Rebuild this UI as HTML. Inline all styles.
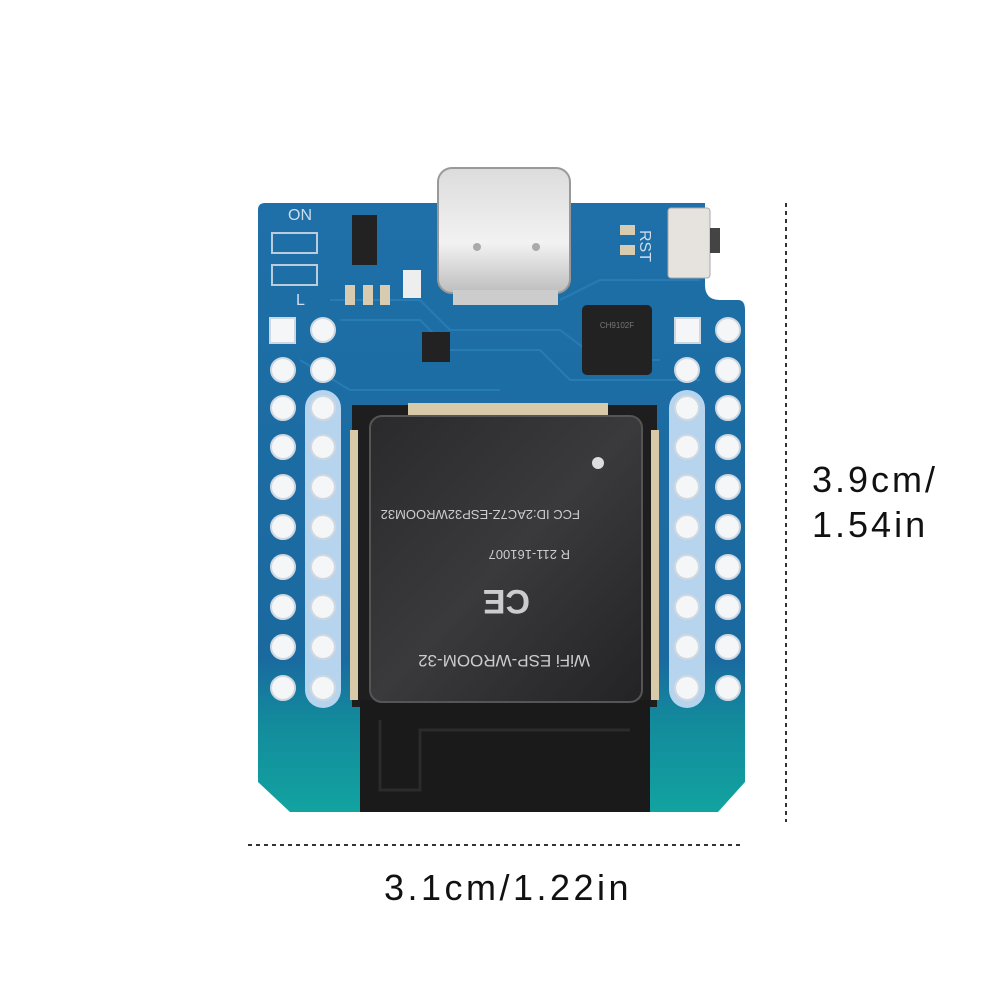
<!DOCTYPE html>
<html><head><style>body{margin:0;background:#fff}svg{display:block}</style></head><body>
<svg width="1000" height="1000" viewBox="0 0 1000 1000" xmlns="http://www.w3.org/2000/svg" font-family="Liberation Sans, sans-serif">
<defs>
<linearGradient id="pcb" x1="0" y1="0" x2="0" y2="1">
<stop offset="0" stop-color="#1f6fa8"/><stop offset="0.75" stop-color="#1a6aa0"/><stop offset="0.85" stop-color="#138a9c"/><stop offset="1" stop-color="#12a3a0"/>
</linearGradient>
<linearGradient id="shield" x1="0" y1="0" x2="1" y2="1">
<stop offset="0" stop-color="#2a2a2c"/><stop offset="0.5" stop-color="#3a3a3c"/><stop offset="1" stop-color="#232325"/>
</linearGradient>
<linearGradient id="usb" x1="0" y1="0" x2="0" y2="1">
<stop offset="0" stop-color="#dcdcdc"/><stop offset="0.6" stop-color="#f2f2f2"/><stop offset="1" stop-color="#bdbdbd"/>
</linearGradient>
</defs>
<path d="M258,210 Q258,203 265,203 L705,203 L705,285 Q705,300 720,300 L738,300 Q745,300 745,310 L745,782 L718,812 L290,812 L258,782 Z" fill="url(#pcb)"/>
<g stroke="#2a80b8" stroke-width="2" fill="none" opacity="0.8">
<path d="M330,300 L420,300 L450,330 L560,330 L600,360 L660,360"/>
<path d="M340,320 L420,320 L450,350 L540,350 L570,380 L700,380"/>
<path d="M300,360 L350,390 L500,390"/>
<path d="M560,300 L600,280 L700,280"/>
</g>
<rect x="438" y="168" width="132" height="125" rx="14" fill="url(#usb)" stroke="#999" stroke-width="2"/>
<rect x="453" y="290" width="105" height="15" fill="#ccc"/>
<circle cx="477" cy="247" r="4" fill="#aaa"/><circle cx="536" cy="247" r="4" fill="#aaa"/>
<rect x="668" y="208" width="42" height="70" rx="3" fill="#e6e3de" stroke="#aaa"/>
<rect x="710" y="228" width="10" height="25" fill="#444"/>
<rect x="582" y="305" width="70" height="70" rx="5" fill="#222"/>
<text x="617" y="328" font-size="8" fill="#777" text-anchor="middle">CH9102F</text>
<rect x="352" y="215" width="25" height="50" fill="#222"/>
<rect x="422" y="332" width="28" height="30" fill="#222"/>
<rect x="403" y="270" width="18" height="28" fill="#eee"/>
<g fill="#d9cbb0"><rect x="345" y="285" width="10" height="20"/><rect x="363" y="285" width="10" height="20"/><rect x="380" y="285" width="10" height="20"/><rect x="620" y="225" width="15" height="10"/><rect x="620" y="245" width="15" height="10"/></g>
<rect x="272" y="233" width="45" height="20" fill="none" stroke="#bcd" stroke-width="2"/>
<rect x="272" y="265" width="45" height="20" fill="none" stroke="#bcd" stroke-width="2"/>
<text x="288" y="220" font-size="16" fill="#cde">ON</text>
<text x="296" y="305" font-size="16" fill="#cde">L</text>
<text x="630" y="240" font-size="16" fill="#cde" transform="rotate(90 640 240)">RST</text>
<rect x="305" y="390" width="36" height="318" rx="18" fill="#b7d4ef"/>
<rect x="669" y="390" width="36" height="318" rx="18" fill="#b7d4ef"/>
<g fill="#f4f6f8" stroke="#cfd8e0" stroke-width="2">
<rect x="270" y="318" width="25" height="25"/><rect x="675" y="318" width="25" height="25"/>
<circle cx="323" cy="330" r="12"/><circle cx="728" cy="330" r="12"/>
<circle cx="283" cy="370" r="12"/><circle cx="323" cy="370" r="12"/><circle cx="687" cy="370" r="12"/><circle cx="728" cy="370" r="12"/>
<circle cx="283" cy="408" r="12"/><circle cx="323" cy="408" r="12"/><circle cx="687" cy="408" r="12"/><circle cx="728" cy="408" r="12"/>
<circle cx="283" cy="447" r="12"/><circle cx="323" cy="447" r="12"/><circle cx="687" cy="447" r="12"/><circle cx="728" cy="447" r="12"/>
<circle cx="283" cy="487" r="12"/><circle cx="323" cy="487" r="12"/><circle cx="687" cy="487" r="12"/><circle cx="728" cy="487" r="12"/>
<circle cx="283" cy="527" r="12"/><circle cx="323" cy="527" r="12"/><circle cx="687" cy="527" r="12"/><circle cx="728" cy="527" r="12"/>
<circle cx="283" cy="567" r="12"/><circle cx="323" cy="567" r="12"/><circle cx="687" cy="567" r="12"/><circle cx="728" cy="567" r="12"/>
<circle cx="283" cy="607" r="12"/><circle cx="323" cy="607" r="12"/><circle cx="687" cy="607" r="12"/><circle cx="728" cy="607" r="12"/>
<circle cx="283" cy="647" r="12"/><circle cx="323" cy="647" r="12"/><circle cx="687" cy="647" r="12"/><circle cx="728" cy="647" r="12"/>
<circle cx="283" cy="688" r="12"/><circle cx="323" cy="688" r="12"/><circle cx="687" cy="688" r="12"/><circle cx="728" cy="688" r="12"/>
</g>
<rect x="352" y="405" width="305" height="302" fill="#1e1e1e"/>
<g fill="#d8c9a8"><rect x="408" y="403" width="200" height="14"/><rect x="350" y="430" width="8" height="270"/><rect x="651" y="430" width="8" height="270"/></g>
<rect x="360" y="700" width="290" height="112" fill="#1a1a1a"/>
<path d="M380,720 L380,790 L420,790 L420,730 L630,730" stroke="#2b2b2b" stroke-width="3" fill="none"/>
<rect x="370" y="416" width="272" height="286" rx="12" fill="url(#shield)" stroke="#555" stroke-width="2"/>
<circle cx="598" cy="463" r="6" fill="#ddd"/>
<g fill="#ccc" font-size="13" transform="rotate(180 505 560)">
<text x="430" y="610">FCC ID:2AC7Z-ESP32WROOM32</text>
<text x="440" y="570">R  211-161007</text>
<text x="480" y="530" font-size="34" font-weight="bold">CE</text>
<text x="420" y="465" font-size="17">WiFi ESP-WROOM-32</text>
</g>
<line x1="786" y1="203" x2="786" y2="822" stroke="#333" stroke-width="2" stroke-dasharray="4,4"/>
<line x1="248" y1="845" x2="742" y2="845" stroke="#333" stroke-width="2" stroke-dasharray="4,4"/>
<text x="812" y="492" font-size="36" fill="#111" letter-spacing="3">3.9cm/</text>
<text x="812" y="537" font-size="36" fill="#111" letter-spacing="3">1.54in</text>
<text x="508" y="900" font-size="36" fill="#111" text-anchor="middle" letter-spacing="3.5">3.1cm/1.22in</text>
</svg>
</body></html>
